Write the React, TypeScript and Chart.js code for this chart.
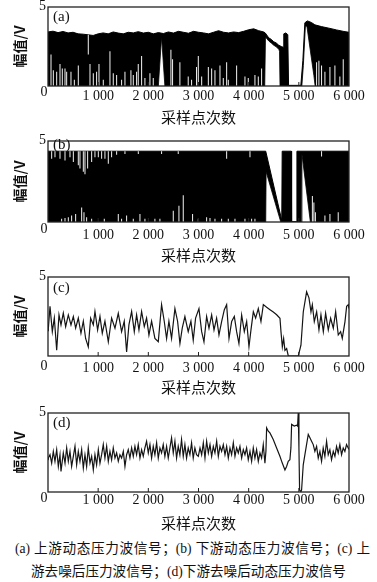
import React, { useEffect, useRef } from 'react';
import { Chart, registerables } from 'chart.js';

Chart.register(...registerables);

// ---------- axis texts ----------
const X_TICKS = [0, 1000, 2000, 3000, 4000, 5000, 6000];
const X_TICK_LABELS = ['', '1 000', '2 000', '3 000', '4 000', '5 000', '6 000'];
const Y_TICK_LABELS = ['0', '5'];
const X_TITLE = '采样点次数';
const Y_TITLE = '幅值/V';
const PANEL_LABELS = ['(a)', '(b)', '(c)', '(d)'];
const CAPTION_1 = '(a) 上游动态压力波信号；(b) 下游动态压力波信号；(c) 上';
const CAPTION_2 = '游去噪后压力波信号；(d)下游去噪后动态压力波信号';

// ---------- panel (a): upstream raw signal (envelopes of the dense trace) ----------
const aUpperX = [0, 100, 200, 300, 400, 500, 600, 700, 800, 900, 1000, 1100, 1200, 1300, 1400, 1500, 1600, 1700, 1800, 1900, 2000, 2100, 2200, 2300, 2400, 2500, 2600, 2700, 2800, 2900, 3000, 3100, 3200, 3300, 3400, 3500, 3600, 3700, 3800, 3900, 4000, 4100, 4200, 4300, 4330, 4400, 4450, 4500, 4550, 4600, 4650, 4690, 4700, 4740, 4780, 4795, 5040, 5080, 5120, 5170, 5250, 5320, 5450, 5600, 5750, 5900, 6000];
const aUpperY = [3.42, 3.47, 3.38, 3.45, 3.36, 3.4, 3.3, 3.28, 3.24, 3.2, 3.3, 3.36, 3.3, 3.42, 3.35, 3.3, 3.4, 3.36, 3.44, 3.35, 3.4, 3.3, 3.38, 3.32, 3.42, 3.35, 3.46, 3.4, 3.34, 3.46, 3.4, 3.36, 3.3, 3.4, 3.5, 3.4, 3.36, 3.42, 3.38, 3.46, 3.56, 3.62, 3.5, 3.42, 3.36, 3.05, 2.95, 2.8, 2.72, 2.58, 2.5, 2.45, 3.3, 3.36, 3.25, 0.04, 0.04, 1.6, 4.0, 4.12, 4.02, 3.87, 3.76, 3.66, 3.55, 3.45, 3.4];
const aLowerX = [0, 2200, 2264, 2330, 4320, 4335, 4400, 4450, 4500, 4550, 4600, 4615, 4625, 5060, 5090, 5130, 5160, 5200, 5250, 5300, 5325, 6000];
const aLowerY = [0, 0, 3.1, 0, 0, 3.1, 2.85, 2.72, 2.58, 2.48, 2.32, 2.2, 0, 0, 1.3, 3.75, 3.8, 2.9, 1.77, 0.66, 0, 0];
const aSpikeX = [60, 106, 173, 239, 285, 339, 372, 458, 525, 604, 837, 903, 969, 1016, 1102, 1235, 1301, 1368, 1467, 1534, 1653, 1700, 1766, 1799, 1866, 1932, 2032, 2098, 2450, 2483, 2629, 2795, 2862, 2961, 2996, 3063, 3196, 3262, 3328, 3428, 3494, 3561, 3594, 3760, 3926, 3992, 4125, 4192, 4258, 5354, 5400, 5453, 5520, 5620, 5719, 5818, 5885];
const aSpikeH = [2.0, 1.0, 0.9, 1.4, 1.1, 1.1, 0.9, 0.9, 0.4, 1.3, 1.4, 0.8, 0.9, 1.4, 0.4, 2.2, 0.8, 0.7, 0.4, 0.9, 1.0, 0.7, 0.9, 1.4, 1.9, 0.5, 0.8, 0.5, 2.3, 1.7, 1.5, 0.6, 0.4, 1.2, 1.9, 0.6, 1.2, 1.1, 1.0, 1.3, 0.5, 1.5, 0.4, 1.3, 0.6, 0.5, 0.7, 0.6, 1.1, 1.5, 1.6, 1.3, 0.9, 1.2, 1.3, 0.6, 1.7];
const aNotchX = [803];
const aNotchLo = [2.0];
const aNotchHi = [3.25];

// ---------- panel (b): downstream raw signal ----------
const bUpperX = [0, 4340, 4660, 4668, 4850, 4856, 4955, 4962, 6000];
const bUpperY = [4.37, 4.37, 0.1, 4.37, 4.37, 0.02, 0.02, 4.37, 4.37];
const bLowerX = [0, 4340, 4348, 4640, 5055, 5062, 5230, 6000];
const bLowerY = [0, 0, 3.1, 0, 0, 4.2, 0, 0];
const bSpikeX = [272, 339, 405, 471, 551, 671, 717, 770, 870, 1122, 1401, 1467, 1567, 1700, 1833, 1932, 2131, 2231, 2497, 2610, 2696, 2882, 2996, 3162, 3229, 3328, 3461, 3594, 3727, 3926, 4059, 4125, 5270, 5300, 5330, 5520, 5620, 5785];
const bSpikeH = [0.2, 0.25, 0.3, 0.4, 0.5, 0.9, 0.6, 0.3, 0.2, 0.2, 0.5, 0.2, 0.4, 0.2, 0.5, 0.2, 0.2, 0.2, 0.7, 1.0, 1.65, 0.5, 0.2, 0.3, 0.25, 0.2, 0.2, 0.2, 0.2, 0.2, 0.2, 0.2, 1.6, 1.2, 0.6, 0.4, 0.5, 0.6];
const bNotchX = [73, 139, 239, 339, 438, 505, 604, 637, 704, 737, 790, 870, 936, 1003, 1069, 1135, 1202, 1268, 1368, 1534, 1800, 2264, 2596, 3561, 4026, 5453];
const bNotchLo = [3.9, 4.0, 3.9, 3.8, 4.0, 3.7, 3.5, 3.3, 3.1, 2.95, 3.3, 3.7, 4.0, 4.0, 3.9, 3.9, 3.6, 4.0, 4.15, 4.2, 4.2, 4.2, 4.2, 3.9, 4.0, 4.05];
const bNotchHi = [4.37, 4.37, 4.37, 4.37, 4.37, 4.37, 4.37, 4.37, 4.37, 4.37, 4.37, 4.37, 4.37, 4.37, 4.37, 4.37, 4.37, 4.37, 4.37, 4.37, 4.37, 4.37, 4.37, 4.37, 4.37, 4.37];

// ---------- panel (c): upstream denoised ----------
const cX = [0, 7, 40, 86, 126, 173, 219, 259, 305, 352, 405, 458, 505, 551, 604, 657, 704, 750, 803, 850, 903, 936, 989, 1036, 1082, 1135, 1202, 1268, 1335, 1401, 1467, 1520, 1567, 1613, 1667, 1720, 1766, 1813, 1866, 1919, 1965, 2012, 2065, 2131, 2198, 2264, 2317, 2364, 2410, 2463, 2530, 2583, 2630, 2676, 2729, 2795, 2849, 2895, 2942, 3009, 3063, 3109, 3162, 3209, 3262, 3309, 3361, 3408, 3461, 3515, 3561, 3608, 3661, 3714, 3760, 3806, 3860, 3913, 3960, 4006, 4046, 4093, 4139, 4192, 4245, 4292, 4358, 4425, 4491, 4558, 4624, 4644, 4671, 4697, 4723, 4757, 4790, 4989, 5042, 5089, 5155, 5202, 5242, 5269, 5308, 5355, 5401, 5441, 5488, 5534, 5587, 5634, 5687, 5734, 5786, 5833, 5866, 5920, 5953, 5986, 6000];
const cY = [1.6, 1.75, 3.14, 1.54, 2.4, 0.36, 2.6, 1.97, 2.72, 1.86, 2.6, 1.97, 2.5, 1.76, 2.4, 1.44, 2.2, 1.11, 0.58, 2.4, 1.97, 2.82, 1.65, 2.5, 1.44, 2.2, 0.9, 2.4, 1.76, 2.7, 1.54, 2.2, 0.26, 1.97, 2.82, 1.54, 2.6, 1.65, 2.82, 1.86, 2.4, 1.33, 2.2, 1.11, 0.9, 3.25, 2.2, 1.11, 2.2, 1.11, 3.0, 2.2, 0.79, 1.76, 2.5, 1.54, 2.2, 1.0, 2.4, 3.0, 1.54, 0.9, 2.5, 1.76, 2.6, 1.65, 2.4, 1.33, 2.18, 2.93, 3.25, 1.11, 2.18, 2.5, 1.54, 0.79, 2.6, 1.54, 2.18, 0.58, 1.65, 2.8, 2.4, 3.0, 2.18, 3.25, 3.08, 2.93, 2.78, 2.61, 2.39, 1.54, 0.58, 1.11, 0.36, 0.47, 0, 0, 0.68, 2.8, 4.06, 3.68, 2.8, 3.25, 2.18, 2.8, 1.65, 2.61, 1.54, 2.7, 1.65, 2.39, 1.76, 2.8, 1.33, 1.54, 1.11, 2.18, 3.14, 3.25, 3.0];

// ---------- panel (d): downstream denoised ----------
const dX = [0, 7, 40, 73, 106, 139, 173, 206, 239, 259, 305, 339, 372, 405, 438, 471, 505, 538, 571, 604, 637, 671, 704, 737, 770, 803, 837, 870, 903, 936, 969, 1003, 1036, 1069, 1102, 1135, 1169, 1202, 1235, 1268, 1301, 1335, 1368, 1401, 1434, 1467, 1501, 1534, 1567, 1600, 1633, 1667, 1700, 1733, 1766, 1799, 1833, 1866, 1899, 1932, 1965, 1999, 2032, 2065, 2098, 2131, 2165, 2198, 2231, 2264, 2297, 2330, 2364, 2397, 2430, 2463, 2497, 2530, 2563, 2596, 2629, 2662, 2696, 2729, 2762, 2795, 2829, 2862, 2895, 2928, 2961, 2996, 3030, 3063, 3096, 3129, 3162, 3196, 3229, 3262, 3295, 3328, 3362, 3395, 3428, 3461, 3494, 3528, 3561, 3594, 3627, 3660, 3694, 3727, 3760, 3793, 3826, 3860, 3893, 3926, 3959, 3992, 4026, 4059, 4092, 4125, 4158, 4192, 4225, 4258, 4291, 4324, 4344, 4358, 4391, 4424, 4490, 4557, 4623, 4670, 4723, 4756, 4789, 4822, 4842, 4856, 4909, 4955, 4975, 4988, 5002, 5015, 5042, 5055, 5088, 5121, 5154, 5188, 5221, 5254, 5287, 5320, 5354, 5387, 5420, 5453, 5486, 5519, 5553, 5586, 5619, 5652, 5686, 5719, 5752, 5785, 5818, 5852, 5885, 5918, 5951, 5984, 6000];
const dY = [2.2, 2.15, 2.36, 1.83, 2.57, 1.94, 2.68, 1.62, 2.36, 1.3, 2.47, 1.83, 2.79, 1.94, 2.57, 1.62, 2.26, 2.89, 1.72, 2.57, 1.94, 2.68, 1.51, 2.36, 1.62, 2.79, 1.83, 2.26, 1.4, 2.36, 1.72, 2.68, 1.83, 2.36, 3.0, 2.15, 2.89, 1.94, 2.57, 2.04, 2.79, 2.15, 2.47, 1.94, 2.36, 2.15, 2.57, 1.62, 2.36, 2.68, 2.15, 2.79, 2.26, 2.89, 2.36, 3.0, 2.15, 2.68, 2.26, 2.79, 3.21, 2.47, 3.0, 2.15, 2.89, 2.36, 3.11, 2.15, 2.79, 2.47, 3.0, 2.26, 2.89, 2.15, 2.79, 3.43, 2.47, 3.21, 2.15, 2.89, 2.36, 3.32, 2.26, 3.0, 2.15, 2.79, 2.36, 3.11, 2.15, 2.79, 2.36, 2.26, 2.79, 2.36, 3.11, 2.15, 3.21, 2.47, 3.0, 2.26, 2.89, 2.47, 3.21, 2.26, 2.89, 2.57, 3.0, 2.36, 2.89, 2.15, 2.79, 2.36, 3.11, 2.26, 2.79, 2.47, 2.89, 2.15, 2.68, 2.36, 2.79, 2.04, 2.57, 1.94, 2.79, 2.15, 2.68, 1.94, 2.47, 2.15, 3.0, 1.83, 2.57, 4.06, 3.85, 3.74, 3.32, 2.79, 2.26, 1.83, 1.4, 1.62, 1.94, 2.04, 2.79, 4.28, 4.17, 4.23, 4.17, 5.0, 2.79, 0.13, 0.02, 0.13, 1.72, 2.36, 3.0, 3.64, 3.43, 3.21, 3.0, 2.57, 2.89, 2.15, 2.57, 1.94, 2.79, 2.26, 3.21, 2.36, 2.68, 2.04, 2.57, 2.26, 2.89, 2.47, 3.0, 2.36, 2.79, 2.57, 3.0, 2.79, 2.7];

// ---------- helpers ----------
const PLOT_LEFT = 48;
const PLOT_RIGHT = 349;
const W = 377;
const TICK_SIZE = 14;
const SERIF = '"Liberation Serif", "Times New Roman", serif';
const CJK = '"Noto Sans CJK SC", sans-serif';
const CAPTION_FONT = '13.6px "Liberation Serif", "Noto Sans CJK SC", serif';

const pts = (xs: number[], ys: number[]) => xs.map((x, i) => ({ x, y: ys[i] }));

function envelopeSets(ux: number[], uy: number[], lx: number[], ly: number[], sx: number[], sh: number[], nx: number[], nlo: number[], nhi: number[]) {
  const bar = { type: 'bar', backgroundColor: '#f4f4f4', barThickness: 1, inflateAmount: 0, borderWidth: 0, grouped: false };
  return [
    { type: 'line', data: pts(ux, uy), borderColor: '#000', borderWidth: 1, backgroundColor: '#000', fill: '+1', pointRadius: 0, tension: 0, order: 3 },
    { type: 'line', data: pts(lx, ly), borderColor: '#000', borderWidth: 0.8, fill: false, pointRadius: 0, tension: 0, order: 2 },
    { ...bar, data: nx.map((x, i) => ({ x, y: [nlo[i], nhi[i]] })), order: 1 },
    { ...bar, data: sx.map((x, i) => ({ x, y: [0, sh[i]] })), order: 0 },
  ];
}

function traceSets(xs: number[], ys: number[]) {
  return [{ type: 'line', data: pts(xs, ys), borderColor: '#151515', borderWidth: 1.2, fill: false, pointRadius: 0, tension: 0 }];
}

type Spec = { label: string; top: number; bottom: number; tickY: number; titleY: number; labelDy: number; zeroDy: number; sets: () => any[] };

const SPECS: Spec[] = [
  { label: PANEL_LABELS[0], top: 7, bottom: 86, tickY: 96, titleY: 117, labelDy: 10, zeroDy: 6, sets: () => envelopeSets(aUpperX, aUpperY, aLowerX, aLowerY, aSpikeX, aSpikeH, aNotchX, aNotchLo, aNotchHi) },
  { label: PANEL_LABELS[1], top: 141, bottom: 222, tickY: 235.5, titleY: 255, labelDy: 4.5, zeroDy: 7, sets: () => envelopeSets(bUpperX, bUpperY, bLowerX, bLowerY, bSpikeX, bSpikeH, bNotchX, bNotchLo, bNotchHi) },
  { label: PANEL_LABELS[2], top: 277, bottom: 356, tickY: 368.5, titleY: 387, labelDy: 11, zeroDy: 10, sets: () => traceSets(cX, cY) },
  { label: PANEL_LABELS[3], top: 413, bottom: 492, tickY: 499.5, titleY: 523, labelDy: 10, zeroDy: 6.5, sets: () => traceSets(dX, dY) },
];

const framePlugin = {
  id: 'frame',
  afterDraw(chart: any, _args: any, opts: any) {
    const { ctx, chartArea } = chart;
    const { left, top, right, bottom } = chartArea;
    const xs = chart.scales.x;
    const ys = chart.scales.y;
    ctx.save();
    ctx.strokeStyle = '#222';
    ctx.lineWidth = 1.3;
    ctx.strokeRect(left, top, right - left, bottom - top);
    ctx.lineWidth = 1;
    for (const v of X_TICKS) {
      if (v === X_TICKS[0] || v === X_TICKS[X_TICKS.length - 1]) continue;
      const px = xs.getPixelForValue(v);
      ctx.beginPath();
      ctx.moveTo(px, bottom);
      ctx.lineTo(px, bottom - 4);
      ctx.stroke();
    }
    ctx.fillStyle = '#111';
    ctx.font = `${TICK_SIZE}px ${SERIF}`;
    ctx.textAlign = 'center';
    ctx.textBaseline = 'middle';
    ctx.fillText(Y_TICK_LABELS[1], left - 5.5, ys.getPixelForValue(5) - 1);
    ctx.fillText(Y_TICK_LABELS[0], left - 4, ys.getPixelForValue(0) + opts.zeroDy);
    ctx.textAlign = 'left';
    ctx.font = `15px ${SERIF}`;
    ctx.fillText(opts.label, left + 5, top + opts.labelDy);
    ctx.restore();
  },
};

function Panel({ spec }: { spec: Spec }) {
  const ref = useRef<HTMLCanvasElement>(null);
  const padTop = 7;
  const canvasTop = spec.top - padTop;
  const axisBottom = spec.titleY + 10;
  const height = Math.ceil(axisBottom + 2 - canvasTop);
  useEffect(() => {
    const xAxisH = axisBottom - spec.bottom;
    const padBottom = height - (axisBottom - canvasTop);
    const chart = new Chart(ref.current as HTMLCanvasElement, {
      type: 'line',
      data: { datasets: spec.sets() as any },
      options: {
        responsive: false,
        animation: false,
        devicePixelRatio: 1,
        events: [],
        layout: { padding: { left: 0, right: W - PLOT_RIGHT, top: padTop, bottom: padBottom } },
        plugins: {
          legend: { display: false },
          tooltip: { enabled: false },
          frame: { label: spec.label, labelDy: spec.labelDy, zeroDy: spec.zeroDy },
        } as any,
        scales: {
          x: {
            type: 'linear',
            min: 0,
            max: 6000,
            offset: false,
            afterFit: (s: any) => { s.height = xAxisH; },
            grid: { display: false, drawTicks: false, offset: false },
            border: { display: false },
            ticks: {
              stepSize: 1000,
              autoSkip: false,
              maxRotation: 0,
              minRotation: 0,
              padding: Math.max(0, spec.tickY - spec.bottom - TICK_SIZE * 0.6),
              color: '#111',
              font: { family: SERIF, size: TICK_SIZE },
              callback: (v: any) => {
                const i = X_TICKS.indexOf(Number(v));
                return i >= 0 ? X_TICK_LABELS[i] : '';
              },
            },
            title: { display: true, text: X_TITLE, color: '#111', font: { family: CJK, size: 15 }, padding: { top: 0, bottom: 1 } },
          },
          y: {
            type: 'linear',
            min: 0,
            max: 5,
            afterFit: (s: any) => { s.width = PLOT_LEFT; },
            grid: { display: false, drawTicks: false },
            border: { display: false },
            ticks: { display: false },
            title: { display: true, text: Y_TITLE, color: '#111', font: { family: CJK, size: 14, weight: 'bold' }, padding: { top: 11.6, bottom: 0 } },
          },
        } as any,
      },
      plugins: [framePlugin],
    });
    return () => chart.destroy();
  }, []);
  return (
    <canvas
      ref={ref}
      width={W}
      height={height}
      style={{ position: 'absolute', left: 0, top: canvasTop, display: 'block', width: W, height }}
    />
  );
}

export default function App() {
  return (
    <div style={{ position: 'absolute', left: 0, top: 0, width: W, height: 582, background: '#fff', overflow: 'hidden' }}>
      {SPECS.map((s) => (
        <Panel key={s.label} spec={s} />
      ))}
      <div
        style={{
          position: 'absolute', left: 15, top: 537, width: 355, lineHeight: '20px', font: CAPTION_FONT, color: '#111',
          textAlign: 'justify', textAlignLast: 'justify', whiteSpace: 'nowrap',
        }}
      >
        {CAPTION_1}
      </div>
      <div
        style={{ position: 'absolute', left: 0, top: 560, width: W, lineHeight: '20px', font: CAPTION_FONT, color: '#111', textAlign: 'center', whiteSpace: 'nowrap' }}
      >
        {CAPTION_2}
      </div>
    </div>
  );
}
